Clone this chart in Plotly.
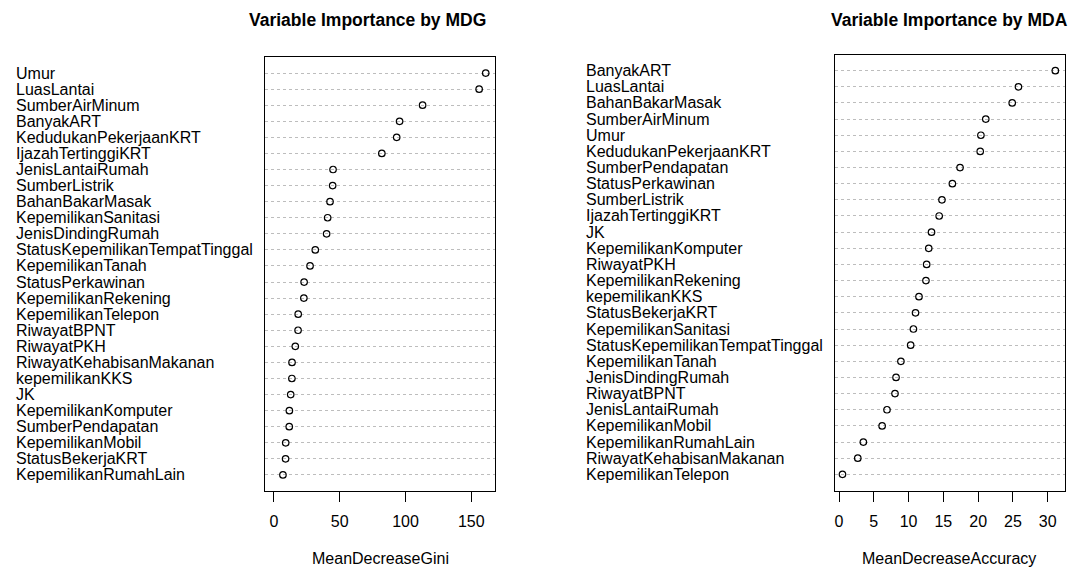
import plotly.graph_objects as go

W, H = 1074, 567

mdg_labels = ["Umur", "LuasLantai", "SumberAirMinum", "BanyakART", "KedudukanPekerjaanKRT",
              "IjazahTertinggiKRT", "JenisLantaiRumah", "SumberListrik", "BahanBakarMasak",
              "KepemilikanSanitasi", "JenisDindingRumah", "StatusKepemilikanTempatTinggal",
              "KepemilikanTanah", "StatusPerkawinan", "KepemilikanRekening", "KepemilikanTelepon",
              "RiwayatBPNT", "RiwayatPKH", "RiwayatKehabisanMakanan", "kepemilikanKKS", "JK",
              "KepemilikanKomputer", "SumberPendapatan", "KepemilikanMobil", "StatusBekerjaKRT",
              "KepemilikanRumahLain"]
mdg_values = [161, 156, 113, 95.5, 93.3, 82.0, 44.9, 44.6, 42.6, 40.8, 40.0, 31.4, 27.4,
              22.9, 22.7, 18.4, 18.3, 16.2, 13.7, 13.6, 12.7, 11.7, 11.6, 8.9, 8.8, 6.8]

mda_labels = ["BanyakART", "LuasLantai", "BahanBakarMasak", "SumberAirMinum", "Umur",
              "KedudukanPekerjaanKRT", "SumberPendapatan", "StatusPerkawinan", "SumberListrik",
              "IjazahTertinggiKRT", "JK", "KepemilikanKomputer", "RiwayatPKH", "KepemilikanRekening",
              "kepemilikanKKS", "StatusBekerjaKRT", "KepemilikanSanitasi",
              "StatusKepemilikanTempatTinggal", "KepemilikanTanah", "JenisDindingRumah",
              "RiwayatBPNT", "JenisLantaiRumah", "KepemilikanMobil", "KepemilikanRumahLain",
              "RiwayatKehabisanMakanan", "KepemilikanTelepon"]
mda_values = [31.1, 25.8, 24.9, 21.1, 20.4, 20.3, 17.4, 16.3, 14.8, 14.4, 13.3, 12.9, 12.6,
              12.5, 11.5, 11.0, 10.7, 10.3, 8.9, 8.2, 8.05, 6.9, 6.2, 3.5, 2.7, 0.5]

mdg_ticks = [0, 50, 100, 150]
mda_ticks = [0, 5, 10, 15, 20, 25, 30]

FONT = "Liberation Sans, Arial, sans-serif"
n1 = len(mdg_labels)
n2 = len(mda_labels)
rows1 = [n1 - i for i in range(n1)]
rows2 = [n2 - i for i in range(n2)]

fig = go.Figure()
marker = dict(symbol="circle-open", size=6.5, color="black", line=dict(width=1.2, color="black"))
fig.add_trace(go.Scatter(x=mdg_values, y=rows1, mode="markers", marker=marker,
                         xaxis="x", yaxis="y", showlegend=False))
fig.add_trace(go.Scatter(x=mda_values, y=rows2, mode="markers", marker=marker,
                         xaxis="x2", yaxis="y2", showlegend=False))

def px_x(p):
    return p / W

def px_y(p):
    return 1 - p / H

xcommon = dict(showline=True, mirror=True, linecolor="black", linewidth=1,
               ticks="outside", ticklen=10, tickcolor="black", tickwidth=1,
               showgrid=False, zeroline=False,
               tickfont=dict(family=FONT, size=16, color="black"),
               ticklabelstandoff=6)
ycommon = dict(showline=True, mirror=True, linecolor="black", linewidth=1,
               ticks="", showticklabels=False, showgrid=True, gridcolor="#bdbdbd",
               griddash="dot", gridwidth=1, zeroline=False, range=[0, 27])

fig.update_layout(
    width=W, height=H, autosize=False,
    margin=dict(l=0, r=0, t=0, b=0),
    paper_bgcolor="white", plot_bgcolor="white",
    font=dict(family=FONT, color="black"),
    xaxis=dict(domain=[px_x(265), px_x(495)], range=[-6.84, 168.06],
               tickvals=mdg_ticks, anchor="y", **xcommon),
    yaxis=dict(domain=[px_y(491), px_y(57)], tickvals=rows1, anchor="x", **ycommon),
    xaxis2=dict(domain=[px_x(835), px_x(1065)], range=[-0.575, 32.49],
                tickvals=mda_ticks, anchor="y2", **xcommon),
    yaxis2=dict(domain=[px_y(490.5), px_y(54.5)], tickvals=rows2, anchor="x2", **ycommon),
)

ann = []
for lab, r in zip(mdg_labels, rows1):
    ann.append(dict(text=lab, x=px_x(14), xref="paper", xanchor="left",
                    y=r, yref="y", yanchor="middle", showarrow=False,
                    font=dict(family=FONT, size=16, color="black")))
for lab, r in zip(mda_labels, rows2):
    ann.append(dict(text=lab, x=px_x(584), xref="paper", xanchor="left",
                    y=r, yref="y2", yanchor="middle", showarrow=False,
                    font=dict(family=FONT, size=16, color="black")))

ann.append(dict(text="<b>Variable Importance by MDG</b>", x=px_x(367), y=px_y(20),
                xref="paper", yref="paper", xanchor="center", yanchor="middle",
                showarrow=False, font=dict(family=FONT, size=17.5, color="black")))
ann.append(dict(text="<b>Variable Importance by MDA</b>", x=px_x(949), y=px_y(20),
                xref="paper", yref="paper", xanchor="center", yanchor="middle",
                showarrow=False, font=dict(family=FONT, size=17.5, color="black")))
ann.append(dict(text="MeanDecreaseGini", x=px_x(380), y=px_y(558),
                xref="paper", yref="paper", xanchor="center", yanchor="middle",
                showarrow=False, font=dict(family=FONT, size=16, color="black")))
ann.append(dict(text="MeanDecreaseAccuracy", x=px_x(949), y=px_y(558),
                xref="paper", yref="paper", xanchor="center", yanchor="middle",
                showarrow=False, font=dict(family=FONT, size=16, color="black")))
fig.update_layout(annotations=ann)

post = ("document.body.style.margin='0';document.body.style.padding='0';"
        "document.body.style.overflow='hidden';"
        "document.documentElement.style.overflow='hidden';")
fig.write_html("out.html", post_script=post, config={"displayModeBar": False})
